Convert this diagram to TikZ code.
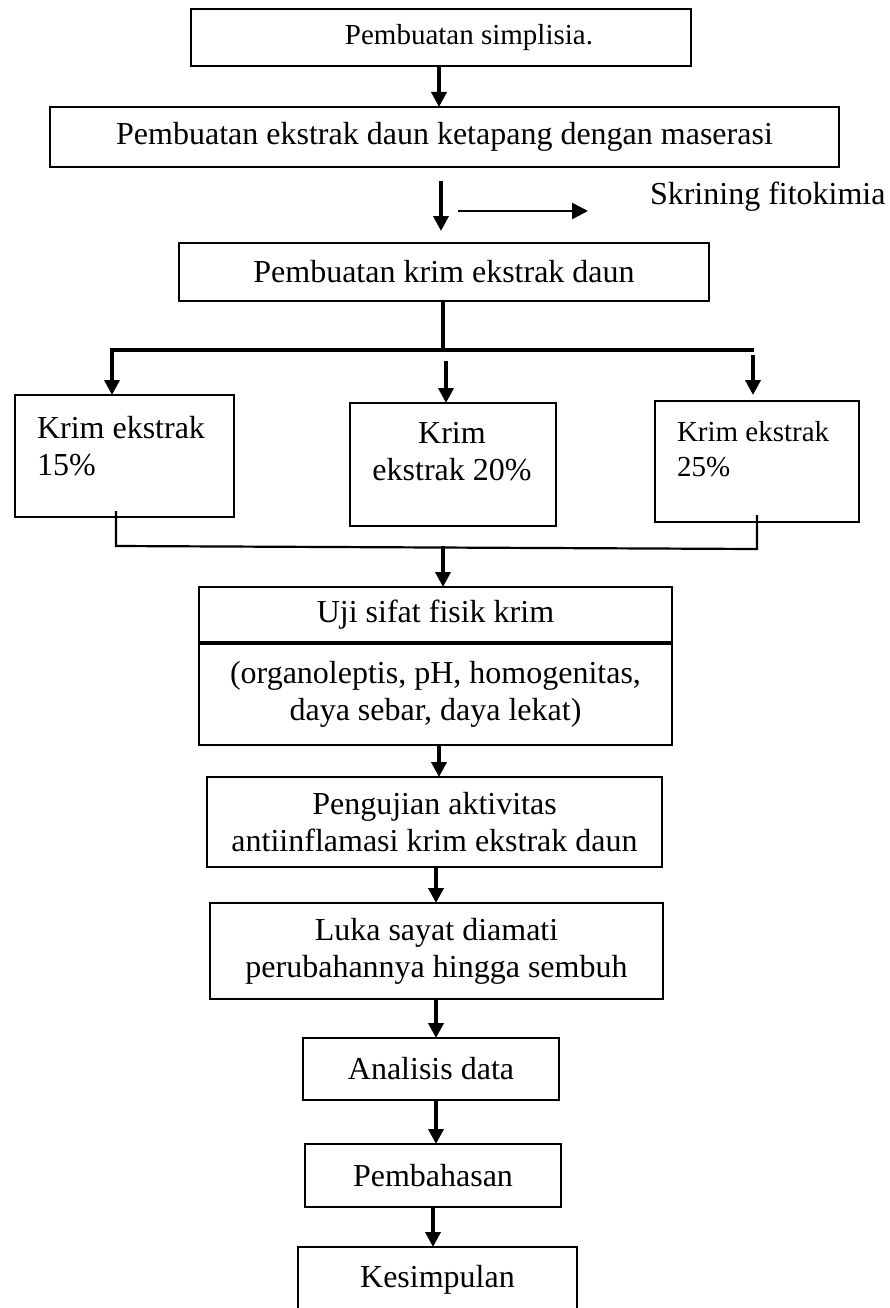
\documentclass[tikz,border=0pt]{standalone}
\usepackage{fontspec}
\setmainfont{Liberation Serif}
\usetikzlibrary{arrows.meta,calc}
\tikzset{
  box/.style={draw, line width=2.4pt, rectangle, inner sep=0pt, outer sep=0pt, align=center, font=\fontsize{32}{37}\selectfont},
  txt/.style={inner sep=0pt, outer sep=0pt, font=\fontsize{32}{37}\selectfont},
  smalltxt/.style={inner sep=0pt, outer sep=0pt, font=\fontsize{29}{35}\selectfont},
  arr/.style={line width=3.6pt, -{Triangle[width=15pt,length=15pt]}},
  harr/.style={line width=2.6pt, -{Triangle[width=16pt,length=16pt]}},
  thin/.style={line width=2.2pt},
}
\begin{document}
\begin{tikzpicture}[x=1pt,y=-1pt]
\clip (0,0) rectangle (889,1308);
\fill[white] (0,0) rectangle (889,1308);

% boxes
\node[box, minimum width=500pt, minimum height=57pt] (b1) at (441,37.5) {};
\node[smalltxt] (t1) at (469,38) {Pembuatan simplisia.};
\node[box, minimum width=789pt, minimum height=60pt] (b2) at (444.5,137) {Pembuatan ekstrak daun ketapang dengan maserasi};
\node[txt, anchor=west] (skr) at (650,197) {Skrining fitokimia};
\node[box, minimum width=530pt, minimum height=58pt] (b3) at (444,272) {Pembuatan krim ekstrak daun};

\node[box, minimum width=219pt, minimum height=122pt] (bL) at (124.5,456) {};
\node[txt, anchor=west, align=left] (tL) at (37,446) {Krim ekstrak\\15\%};
\node[box, minimum width=206pt, minimum height=123pt] (bM) at (453,464.5) {};
\node[txt, align=center] (tM) at (452,452) {Krim\\ekstrak 20\%};
\node[box, minimum width=204pt, minimum height=121pt] (bR) at (757,461.5) {};
\node[smalltxt, anchor=west, align=left] (tR) at (677,449) {Krim ekstrak\\25\%};

\node[box, minimum width=473pt, minimum height=56pt] (u1) at (435.5,615) {Uji sifat fisik krim};
\node[box, minimum width=473pt, minimum height=102pt] (u2) at (435.5,694) {(organoleptis, pH, homogenitas,\\daya sebar, daya lekat)};
\draw[line width=4.5pt] (u1.south west) -- (u1.south east);

\node[box, minimum width=455pt, minimum height=90pt] (p1) at (434.5,822) {Pengujian aktivitas\\antiinflamasi krim ekstrak daun};
\node[box, minimum width=453pt, minimum height=96pt] (l1) at (436.5,951) {Luka sayat diamati\\perubahannya hingga sembuh};
\node[box, minimum width=256pt, minimum height=62pt] (a1) at (431,1069) {Analisis data};
\node[box, minimum width=256pt, minimum height=63pt] (ph) at (433,1175.5) {Pembahasan};
\node[box, minimum width=279pt, minimum height=86pt] (ks) at (437.5,1290) {};
\node[txt] (tks) at (437.5,1280) {Kesimpulan};

% connectors top
\draw[arr] (b1.south -| 439,0) -- (b2.north -| 439,0);
\draw[arr] ($(b2.south -| 441,0)+(0,14)$) -- ($(b3.north -| 441,0)+(0,-12)$);
\coordinate (h1) at (458,211);
\coordinate (h2) at (588,211);
\draw[harr] (h1) -- (h2);

% split
\coordinate (split) at (443,350);
\coordinate (sL) at (110,350);
\coordinate (sR) at (754,350);
\draw[line width=3.6pt] (b3.south -| split) -- (split);
\draw[line width=4pt] (sL) -- (sR);
\draw[arr] (112,350) -- (bL.north -| 112,0);
\draw[arr] (446,361) -- (bM.north -| 446,0);
\draw[arr] (753,355) -- ($(bR.north -| 753,0)+(0,-6)$);

% merge
\coordinate (mL) at (116,546);
\coordinate (mR) at (757,549);
\draw[thin] ($(bL.south -| mL)+(0,-6)$) -- (mL) -- (mR) -- ($(bR.south -| mR)+(0,-7)$);
\draw[arr] (443,546) -- (u1.north -| 443,0);

% lower chain
\draw[arr] (u2.south -| 439,0) -- (p1.north -| 439,0);
\draw[arr] (p1.south -| 436,0) -- (l1.north -| 436,0);
\draw[arr] (l1.south -| 436,0) -- (a1.north -| 436,0);
\draw[arr] (a1.south -| 436,0) -- (ph.north -| 436,0);
\draw[arr] (ph.south -| 433,0) -- (ks.north -| 433,0);
\end{tikzpicture}
\end{document}
